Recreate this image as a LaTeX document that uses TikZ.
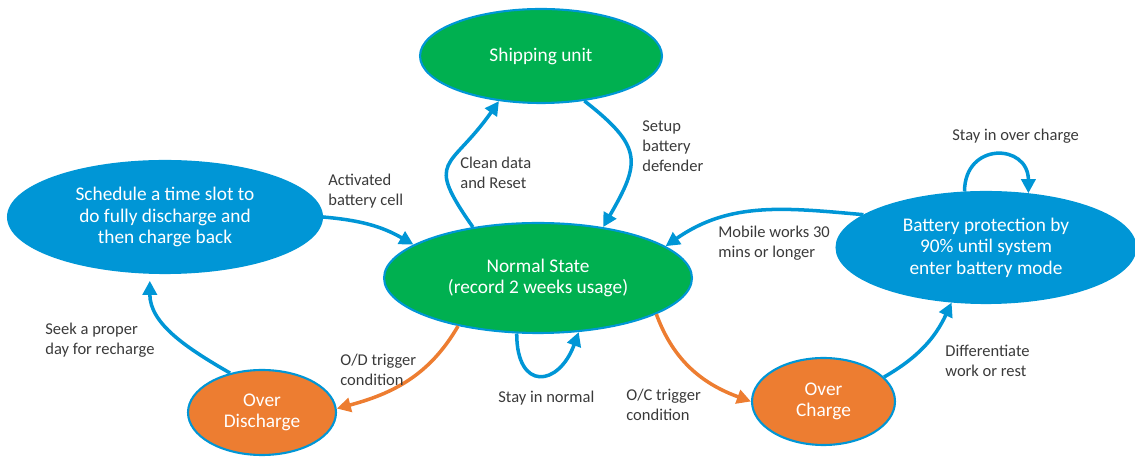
\documentclass[tikz,border=0pt]{standalone}
\usepackage{fontspec}
\setmainfont{Carlito}
\usetikzlibrary{arrows.meta,shapes.geometric}
\definecolor{hpblue}{HTML}{0096D6}
\definecolor{hpgreen}{HTML}{00B050}
\definecolor{hporange}{HTML}{ED7D31}
\definecolor{lblgray}{HTML}{3A3A3A}

\begin{document}
\begin{tikzpicture}[
    x=0.02cm, y=0.02cm,
    state/.style={ellipse, draw=hpblue, fill=#1, line width=1.2pt,
                  inner sep=0pt, text=white, align=center,
                  font=\fontsize{11}{12.2}\selectfont},
    state/.default=hpgreen,
    arr/.style={-{Triangle[length=8pt,width=8pt]}, line width=2pt, draw=#1},
    arr/.default=hpblue,
    lbl/.style={anchor=west, align=left, inner sep=0pt, text=lblgray,
                font=\fontsize{9.4}{11.3}\selectfont}
]
\useasboundingbox (0,0) rectangle (1135,459);

\node[state=hpgreen, minimum width=4.84cm, minimum height=1.88cm] (ship) at (541,403) {Shipping unit};
\node[state=hpgreen, minimum width=6.16cm, minimum height=2.2cm] (norm) at (538,181) {Normal State\\(record 2 weeks usage)};
\node[state=hpblue, minimum width=6.28cm, minimum height=2.24cm] (sched) at (165,242) {Schedule a time slot to\\do fully discharge and\\then charge back};
\node[state=hpblue, minimum width=5.98cm, minimum height=2.22cm] (batt) at (986,211.5) {Battery protection by\\90\% until system\\enter battery mode};
\node[state=hporange, minimum width=2.96cm, minimum height=1.7cm] (odis) at (262,46.5) {Over\\Discharge};
\node[state=hporange, minimum width=2.86cm, minimum height=1.74cm] (ochg) at (823.5,57.5) {Over\\Charge};

\draw[arr] (norm.142) to[out=125, in=235, looseness=1.7] (ship.-133);
\draw[arr] (ship.-46) to[out=-38, in=60, looseness=1.5] (norm.38);
\draw[arr] (sched.0) to[out=-5, in=150] (norm.165);
\draw[arr] (batt.165) to[out=175, in=35] (norm.14);
\draw[arr] (batt.111) to[out=90, in=90, looseness=2] (batt.52);
\draw[arr] (norm.249) to[out=-90, in=-110, looseness=2.4] (norm.307);
\draw[arr=hporange] (norm.211) to[out=240, in=15] (odis.3);
\draw[arr=hporange] (norm.-17) to[out=-70, in=160] (ochg.180);
\draw[arr] (ochg.22) to[out=30, in=245] (batt.238);
\draw[arr, shorten >=4pt] (odis.129) to[out=150, in=-90] (sched.255);

\node[lbl] (lclean) at (460,286.5) {Clean data\\and Reset};
\node[lbl] (lsetup) at (642,313) {Setup\\battery\\defender};
\node[lbl] (lact) at (328,268) {Activated\\battery cell};
\node[lbl] (lmob) at (718,215.5) {Mobile works 30\\mins or longer};
\node[lbl] (lstayoc) at (952,323) {Stay in over charge};
\node[lbl] (lstaynorm) at (498,61) {Stay in normal};
\node[lbl] (lod) at (340,89) {O/D trigger\\condition};
\node[lbl] (loc) at (626,54) {O/C trigger\\condition};
\node[lbl] (ldiff) at (945,98) {Differentiate\\work or rest};
\node[lbl] (lseek) at (45,119) {Seek a proper\\day for recharge};

\end{tikzpicture}
\end{document}
